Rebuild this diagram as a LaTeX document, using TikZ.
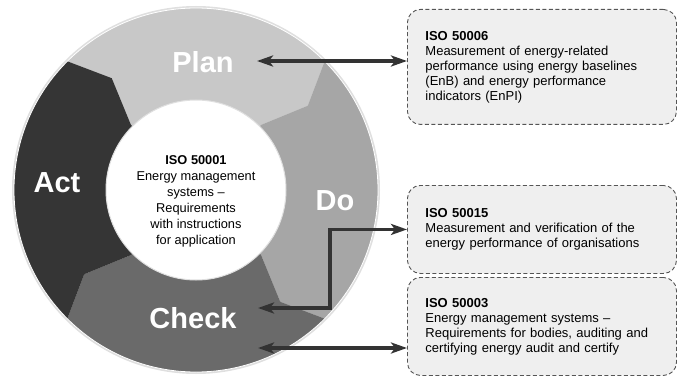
\documentclass[tikz,border=0pt]{standalone}
\usepackage{fontspec}
\setmainfont{Liberation Sans}
\usetikzlibrary{arrows.meta,calc}
\definecolor{planc}{HTML}{C8C8C8}
\definecolor{doc}{HTML}{A6A6A6}
\definecolor{checkc}{HTML}{6A6A6A}
\definecolor{actc}{HTML}{353535}
\definecolor{boxfill}{HTML}{EFEFEF}
\definecolor{boxline}{HTML}{555555}
\definecolor{arrowc}{HTML}{333333}
\begin{document}
\begin{tikzpicture}[x=1pt,y=-1pt,
  seglabel/.style={text=white, font=\fontsize{29}{29}\selectfont\bfseries, anchor=base, inner sep=0pt},
  isobox/.style={draw=boxline, fill=boxfill, dash pattern=on 4pt off 2.5pt, line width=0.9pt,
    rounded corners=13pt, minimum width=269pt, text width=233pt, align=left, inner xsep=18pt,
    anchor=north west, font=\fontsize{13}{15}\selectfont},
  biarrow/.style={draw=arrowc, line width=3.4pt,
    {Stealth[length=16pt,width=11pt,inset=4pt]}-{Stealth[length=16pt,width=11pt,inset=4pt]}}
]
\useasboundingbox (0,0) rectangle (677,377);
\coordinate (C) at (196,190);
\begin{scope}[shift={(C)}]
  \fill[gray!25] (0,0) circle[radius=184pt];
  \begin{scope}
    \clip (0,0) circle[radius=182pt];
    \foreach \a/\col in {135/planc,45/doc,-45/checkc,-135/actc}{
      \fill[\col] (0,0) -- (\a:92pt) -- ({\a-8}:140pt) -- (\a:182pt) -- (\a:260pt)
        -- ({\a-45}:300pt) -- ({\a-90}:260pt) -- ({\a-90}:182pt) -- ({\a-98}:140pt)
        -- ({\a-90}:92pt) -- cycle;
    }
  \end{scope}
  \draw[white, line width=0.8pt] (0,0) circle[radius=182pt];
\end{scope}
\node[circle, fill=white, draw=gray!25, line width=1pt, minimum size=180pt, inner sep=0pt] (hub) at (C) {};
\node[align=center, font=\fontsize{12.8}{16}\selectfont, inner sep=0pt, anchor=north] (iso1) at (196,155.5)
  {\textbf{ISO 50001}\\Energy management\\systems –\\Requirements\\with instructions\\for application};

\node[seglabel] (plan) at (203,73) {Plan};
\node[seglabel] (act) at (57,192) {Act};
\node[seglabel] (do) at (335,210) {Do};
\node[seglabel] (check) at (193,328) {Check};

\node[isobox, minimum height=115pt] (b1) at (407,9)
  {\textbf{ISO 50006}\\Measurement of energy-related\\performance using energy baselines\\(EnB) and energy performance\\indicators (EnPI)};
\node[isobox, minimum height=88pt] (b2) at (407,185)
  {\textbf{ISO 50015}\\Measurement and verification of the\\energy performance of organisations};
\node[isobox, minimum height=98pt] (b3) at (407,277)
  {\textbf{ISO 50003}\\Energy management systems –\\Requirements for bodies, auditing and\\certifying energy audit and certify};

\coordinate (planA) at (257,61);
\coordinate (chkA) at (258,308);
\coordinate (chkB) at (258,348);
\draw[biarrow] (planA) -- (planA -| b1.west);
\draw[biarrow] (b2.west) -- ++(-77,0) |- (chkA);
\draw[biarrow] (chkB) -- (chkB -| b3.west);
\end{tikzpicture}
\end{document}
